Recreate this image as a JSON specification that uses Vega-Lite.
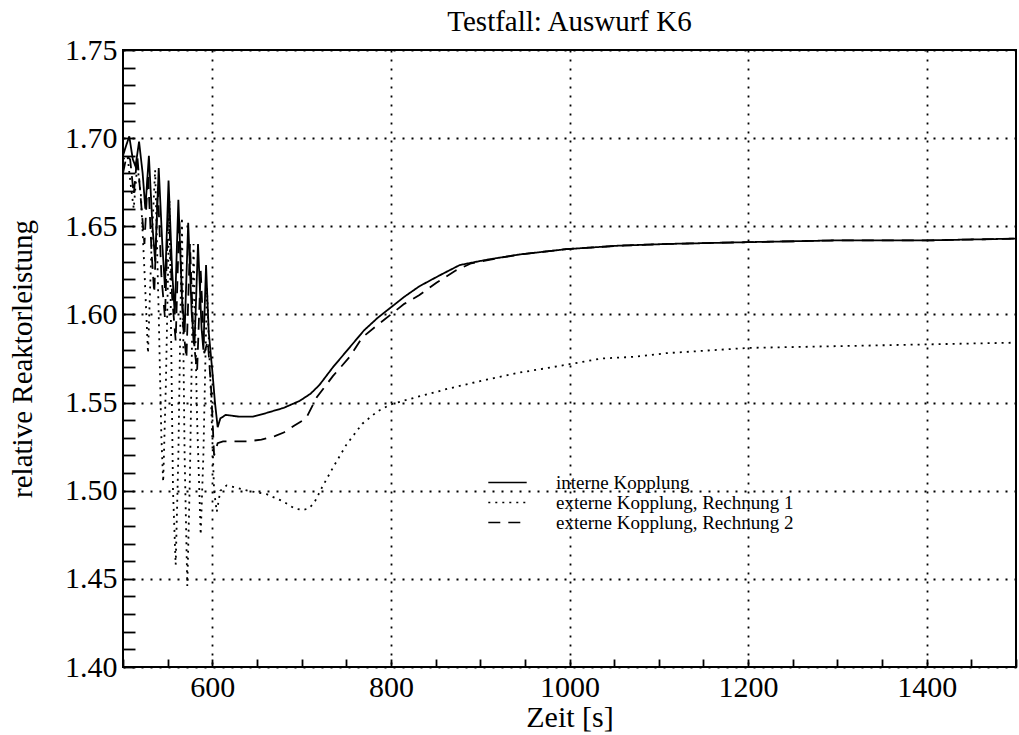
{
  "$schema": "https://vega.github.io/schema/vega-lite/v6.json",
  "autosize": {"type": "none"},
  "width": 893,
  "height": 617,
  "padding": {"left": 123, "top": 50, "right": 3, "bottom": 68},
  "background": "white",
  "config": {
    "font": "Liberation Serif",
    "view": {"stroke": "black", "strokeWidth": 2},
    "axis": {"labelColor": "black", "titleColor": "black", "labelFont": "Liberation Serif", "titleFont": "Liberation Serif", "titleFontWeight": "normal"}
  },
  "title": {"text": "Testfall: Auswurf K6", "fontSize": 29, "fontWeight": "normal", "color": "black", "anchor": "middle", "offset": -2, "font": "Liberation Serif"},
  "data": {"values": [
    {"t":500,"p":1.690,"s":"interne Kopplung"},{"t":503,"p":1.695,"s":"interne Kopplung"},{"t":507,"p":1.701,"s":"interne Kopplung"},{"t":511,"p":1.688,"s":"interne Kopplung"},{"t":514,"p":1.684,"s":"interne Kopplung"},{"t":518,"p":1.698,"s":"interne Kopplung"},{"t":522,"p":1.680,"s":"interne Kopplung"},{"t":525,"p":1.660,"s":"interne Kopplung"},{"t":529,"p":1.690,"s":"interne Kopplung"},{"t":533,"p":1.650,"s":"interne Kopplung"},{"t":536,"p":1.630,"s":"interne Kopplung"},{"t":540,"p":1.683,"s":"interne Kopplung"},{"t":544,"p":1.640,"s":"interne Kopplung"},{"t":547,"p":1.615,"s":"interne Kopplung"},{"t":551,"p":1.676,"s":"interne Kopplung"},{"t":555,"p":1.625,"s":"interne Kopplung"},{"t":558,"p":1.600,"s":"interne Kopplung"},{"t":562,"p":1.665,"s":"interne Kopplung"},{"t":566,"p":1.610,"s":"interne Kopplung"},{"t":569,"p":1.590,"s":"interne Kopplung"},{"t":573,"p":1.652,"s":"interne Kopplung"},{"t":577,"p":1.600,"s":"interne Kopplung"},{"t":580,"p":1.582,"s":"interne Kopplung"},{"t":584,"p":1.640,"s":"interne Kopplung"},{"t":588,"p":1.592,"s":"interne Kopplung"},{"t":590,"p":1.580,"s":"interne Kopplung"},{"t":593,"p":1.628,"s":"interne Kopplung"},{"t":596,"p":1.590,"s":"interne Kopplung"},{"t":600,"p":1.568,"s":"interne Kopplung"},{"t":603,"p":1.550,"s":"interne Kopplung"},{"t":606,"p":1.536,"s":"interne Kopplung"},{"t":609,"p":1.541,"s":"interne Kopplung"},{"t":615,"p":1.543,"s":"interne Kopplung"},{"t":630,"p":1.542,"s":"interne Kopplung"},{"t":645,"p":1.542,"s":"interne Kopplung"},{"t":660,"p":1.544,"s":"interne Kopplung"},{"t":680,"p":1.547,"s":"interne Kopplung"},{"t":698,"p":1.551,"s":"interne Kopplung"},{"t":710,"p":1.555,"s":"interne Kopplung"},{"t":720,"p":1.560,"s":"interne Kopplung"},{"t":735,"p":1.570,"s":"interne Kopplung"},{"t":755,"p":1.582,"s":"interne Kopplung"},{"t":770,"p":1.591,"s":"interne Kopplung"},{"t":785,"p":1.598,"s":"interne Kopplung"},{"t":800,"p":1.604,"s":"interne Kopplung"},{"t":815,"p":1.610,"s":"interne Kopplung"},{"t":832,"p":1.616,"s":"interne Kopplung"},{"t":854,"p":1.622,"s":"interne Kopplung"},{"t":877,"p":1.628,"s":"interne Kopplung"},{"t":907,"p":1.631,"s":"interne Kopplung"},{"t":944,"p":1.634,"s":"interne Kopplung"},{"t":996,"p":1.637,"s":"interne Kopplung"},{"t":1055,"p":1.639,"s":"interne Kopplung"},{"t":1111,"p":1.640,"s":"interne Kopplung"},{"t":1200,"p":1.641,"s":"interne Kopplung"},{"t":1300,"p":1.642,"s":"interne Kopplung"},{"t":1400,"p":1.642,"s":"interne Kopplung"},{"t":1500,"p":1.643,"s":"interne Kopplung"},

    {"t":500,"p":1.688,"s":"externe Kopplung, Rechnung 1"},{"t":505,"p":1.690,"s":"externe Kopplung, Rechnung 1"},{"t":509,"p":1.672,"s":"externe Kopplung, Rechnung 1"},{"t":512,"p":1.660,"s":"externe Kopplung, Rechnung 1"},{"t":516,"p":1.685,"s":"externe Kopplung, Rechnung 1"},{"t":520,"p":1.668,"s":"externe Kopplung, Rechnung 1"},{"t":524,"p":1.625,"s":"externe Kopplung, Rechnung 1"},{"t":528,"p":1.578,"s":"externe Kopplung, Rechnung 1"},{"t":532,"p":1.640,"s":"externe Kopplung, Rechnung 1"},{"t":536,"p":1.682,"s":"externe Kopplung, Rechnung 1"},{"t":540,"p":1.600,"s":"externe Kopplung, Rechnung 1"},{"t":543,"p":1.530,"s":"externe Kopplung, Rechnung 1"},{"t":545,"p":1.505,"s":"externe Kopplung, Rechnung 1"},{"t":548,"p":1.560,"s":"externe Kopplung, Rechnung 1"},{"t":552,"p":1.665,"s":"externe Kopplung, Rechnung 1"},{"t":556,"p":1.500,"s":"externe Kopplung, Rechnung 1"},{"t":559,"p":1.458,"s":"externe Kopplung, Rechnung 1"},{"t":562,"p":1.520,"s":"externe Kopplung, Rechnung 1"},{"t":566,"p":1.655,"s":"externe Kopplung, Rechnung 1"},{"t":569,"p":1.520,"s":"externe Kopplung, Rechnung 1"},{"t":572,"p":1.446,"s":"externe Kopplung, Rechnung 1"},{"t":575,"p":1.510,"s":"externe Kopplung, Rechnung 1"},{"t":579,"p":1.640,"s":"externe Kopplung, Rechnung 1"},{"t":583,"p":1.540,"s":"externe Kopplung, Rechnung 1"},{"t":587,"p":1.475,"s":"externe Kopplung, Rechnung 1"},{"t":590,"p":1.520,"s":"externe Kopplung, Rechnung 1"},{"t":594,"p":1.615,"s":"externe Kopplung, Rechnung 1"},{"t":598,"p":1.560,"s":"externe Kopplung, Rechnung 1"},{"t":602,"p":1.500,"s":"externe Kopplung, Rechnung 1"},{"t":605,"p":1.488,"s":"externe Kopplung, Rechnung 1"},{"t":609,"p":1.500,"s":"externe Kopplung, Rechnung 1"},{"t":616,"p":1.503,"s":"externe Kopplung, Rechnung 1"},{"t":625,"p":1.502,"s":"externe Kopplung, Rechnung 1"},{"t":640,"p":1.500,"s":"externe Kopplung, Rechnung 1"},{"t":661,"p":1.498,"s":"externe Kopplung, Rechnung 1"},{"t":679,"p":1.494,"s":"externe Kopplung, Rechnung 1"},{"t":692,"p":1.490,"s":"externe Kopplung, Rechnung 1"},{"t":701,"p":1.489,"s":"externe Kopplung, Rechnung 1"},{"t":708,"p":1.490,"s":"externe Kopplung, Rechnung 1"},{"t":714,"p":1.493,"s":"externe Kopplung, Rechnung 1"},{"t":723,"p":1.502,"s":"externe Kopplung, Rechnung 1"},{"t":735,"p":1.513,"s":"externe Kopplung, Rechnung 1"},{"t":750,"p":1.526,"s":"externe Kopplung, Rechnung 1"},{"t":768,"p":1.538,"s":"externe Kopplung, Rechnung 1"},{"t":785,"p":1.545,"s":"externe Kopplung, Rechnung 1"},{"t":800,"p":1.549,"s":"externe Kopplung, Rechnung 1"},{"t":828,"p":1.553,"s":"externe Kopplung, Rechnung 1"},{"t":865,"p":1.558,"s":"externe Kopplung, Rechnung 1"},{"t":907,"p":1.563,"s":"externe Kopplung, Rechnung 1"},{"t":944,"p":1.567,"s":"externe Kopplung, Rechnung 1"},{"t":980,"p":1.570,"s":"externe Kopplung, Rechnung 1"},{"t":1036,"p":1.575,"s":"externe Kopplung, Rechnung 1"},{"t":1074,"p":1.576,"s":"externe Kopplung, Rechnung 1"},{"t":1108,"p":1.578,"s":"externe Kopplung, Rechnung 1"},{"t":1200,"p":1.581,"s":"externe Kopplung, Rechnung 1"},{"t":1300,"p":1.582,"s":"externe Kopplung, Rechnung 1"},{"t":1400,"p":1.583,"s":"externe Kopplung, Rechnung 1"},{"t":1500,"p":1.584,"s":"externe Kopplung, Rechnung 1"},

    {"t":500,"p":1.680,"s":"externe Kopplung, Rechnung 2"},{"t":504,"p":1.690,"s":"externe Kopplung, Rechnung 2"},{"t":508,"p":1.688,"s":"externe Kopplung, Rechnung 2"},{"t":512,"p":1.668,"s":"externe Kopplung, Rechnung 2"},{"t":516,"p":1.690,"s":"externe Kopplung, Rechnung 2"},{"t":520,"p":1.665,"s":"externe Kopplung, Rechnung 2"},{"t":524,"p":1.640,"s":"externe Kopplung, Rechnung 2"},{"t":528,"p":1.680,"s":"externe Kopplung, Rechnung 2"},{"t":532,"p":1.635,"s":"externe Kopplung, Rechnung 2"},{"t":535,"p":1.612,"s":"externe Kopplung, Rechnung 2"},{"t":539,"p":1.672,"s":"externe Kopplung, Rechnung 2"},{"t":543,"p":1.622,"s":"externe Kopplung, Rechnung 2"},{"t":547,"p":1.598,"s":"externe Kopplung, Rechnung 2"},{"t":551,"p":1.665,"s":"externe Kopplung, Rechnung 2"},{"t":555,"p":1.610,"s":"externe Kopplung, Rechnung 2"},{"t":559,"p":1.585,"s":"externe Kopplung, Rechnung 2"},{"t":563,"p":1.655,"s":"externe Kopplung, Rechnung 2"},{"t":567,"p":1.595,"s":"externe Kopplung, Rechnung 2"},{"t":571,"p":1.575,"s":"externe Kopplung, Rechnung 2"},{"t":575,"p":1.640,"s":"externe Kopplung, Rechnung 2"},{"t":579,"p":1.585,"s":"externe Kopplung, Rechnung 2"},{"t":583,"p":1.568,"s":"externe Kopplung, Rechnung 2"},{"t":587,"p":1.625,"s":"externe Kopplung, Rechnung 2"},{"t":591,"p":1.578,"s":"externe Kopplung, Rechnung 2"},{"t":595,"p":1.585,"s":"externe Kopplung, Rechnung 2"},{"t":599,"p":1.555,"s":"externe Kopplung, Rechnung 2"},{"t":602,"p":1.520,"s":"externe Kopplung, Rechnung 2"},{"t":606,"p":1.527,"s":"externe Kopplung, Rechnung 2"},{"t":612,"p":1.528,"s":"externe Kopplung, Rechnung 2"},{"t":625,"p":1.528,"s":"externe Kopplung, Rechnung 2"},{"t":640,"p":1.528,"s":"externe Kopplung, Rechnung 2"},{"t":655,"p":1.529,"s":"externe Kopplung, Rechnung 2"},{"t":670,"p":1.531,"s":"externe Kopplung, Rechnung 2"},{"t":680,"p":1.533,"s":"externe Kopplung, Rechnung 2"},{"t":692,"p":1.537,"s":"externe Kopplung, Rechnung 2"},{"t":705,"p":1.541,"s":"externe Kopplung, Rechnung 2"},{"t":717,"p":1.553,"s":"externe Kopplung, Rechnung 2"},{"t":735,"p":1.565,"s":"externe Kopplung, Rechnung 2"},{"t":754,"p":1.576,"s":"externe Kopplung, Rechnung 2"},{"t":768,"p":1.587,"s":"externe Kopplung, Rechnung 2"},{"t":785,"p":1.594,"s":"externe Kopplung, Rechnung 2"},{"t":800,"p":1.600,"s":"externe Kopplung, Rechnung 2"},{"t":815,"p":1.606,"s":"externe Kopplung, Rechnung 2"},{"t":832,"p":1.611,"s":"externe Kopplung, Rechnung 2"},{"t":851,"p":1.618,"s":"externe Kopplung, Rechnung 2"},{"t":873,"p":1.625,"s":"externe Kopplung, Rechnung 2"},{"t":890,"p":1.629,"s":"externe Kopplung, Rechnung 2"},{"t":910,"p":1.631,"s":"externe Kopplung, Rechnung 2"},{"t":944,"p":1.634,"s":"externe Kopplung, Rechnung 2"},{"t":996,"p":1.637,"s":"externe Kopplung, Rechnung 2"},{"t":1055,"p":1.639,"s":"externe Kopplung, Rechnung 2"},{"t":1111,"p":1.640,"s":"externe Kopplung, Rechnung 2"},{"t":1200,"p":1.641,"s":"externe Kopplung, Rechnung 2"},{"t":1300,"p":1.642,"s":"externe Kopplung, Rechnung 2"},{"t":1400,"p":1.642,"s":"externe Kopplung, Rechnung 2"},{"t":1500,"p":1.643,"s":"externe Kopplung, Rechnung 2"}
  ]},
  "mark": {"type": "line", "color": "black", "strokeWidth": 1.8, "clip": true},
  "encoding": {
    "x": {"field": "t", "type": "quantitative",
      "scale": {"domain": [500, 1500], "nice": false, "zero": false},
      "axis": {"orient": "bottom", "offset": -8,
        "values": [500,550,600,650,700,750,800,850,900,950,1000,1050,1100,1150,1200,1250,1300,1350,1400,1450,1500],
        "format": "d",
        "labelExpr": "datum.value % 200 == 0 ? datum.label : ''",
        "grid": true, "gridColor": "black", "gridDash": [2, 7], "gridWidth": 1.8,
        "gridOpacity": {"condition": {"test": "datum.value % 200 == 0", "value": 1}, "value": 0},
        "ticks": true, "tickSize": 8, "tickColor": "black", "tickWidth": 1.8,
        "domain": false,
        "labelFont": "Liberation Serif", "labelFontSize": 30, "labelPadding": 5, "labelColor": "black",
        "title": "Zeit [s]", "titleFont": "Liberation Serif", "titleFontWeight": "normal", "titleColor": "black", "titleFontSize": 30, "titlePadding": 0}},
    "y": {"field": "p", "type": "quantitative",
      "scale": {"domain": [1.40, 1.75], "nice": false, "zero": false},
      "axis": {"orient": "left", "offset": -12,
        "values": [1.40,1.41,1.42,1.43,1.44,1.45,1.46,1.47,1.48,1.49,1.50,1.51,1.52,1.53,1.54,1.55,1.56,1.57,1.58,1.59,1.60,1.61,1.62,1.63,1.64,1.65,1.66,1.67,1.68,1.69,1.70,1.71,1.72,1.73,1.74,1.75],
        "labelExpr": "round(datum.value*100) % 5 == 0 ? format(datum.value, '.2f') : ''",
        "grid": true, "gridColor": "black", "gridDash": [2, 7], "gridWidth": 1.8,
        "gridOpacity": {"condition": {"test": "round(datum.value*100) % 5 == 0", "value": 1}, "value": 0},
        "ticks": true, "tickSize": 12, "tickColor": "black", "tickWidth": 1.8,
        "domain": false,
        "labelFont": "Liberation Serif", "labelFontSize": 30, "labelPadding": 6, "labelColor": "black",
        "title": "relative Reaktorleistung", "titleFont": "Liberation Serif", "titleFontWeight": "normal", "titleColor": "black", "titleFontSize": 29, "titlePadding": 27}},
    "strokeDash": {"field": "s", "type": "nominal",
      "scale": {"domain": ["interne Kopplung", "externe Kopplung, Rechnung 1", "externe Kopplung, Rechnung 2"],
                "range": [[1, 0], [2, 5], [12, 8]]},
      "legend": {"orient": "none", "legendX": 375, "legendY": 423, "title": null,
        "symbolType": "M-2.4,0H2.4", "symbolSize": 256, "symbolStrokeWidth": 1.6, "symbolStrokeColor": "black", "symbolFillColor": "transparent",
        "labelFontSize": 19, "labelFont": "Liberation Serif", "labelColor": "black", "labelOffset": 39, "labelLimit": 500, "rowPadding": 0}}
  }
}
